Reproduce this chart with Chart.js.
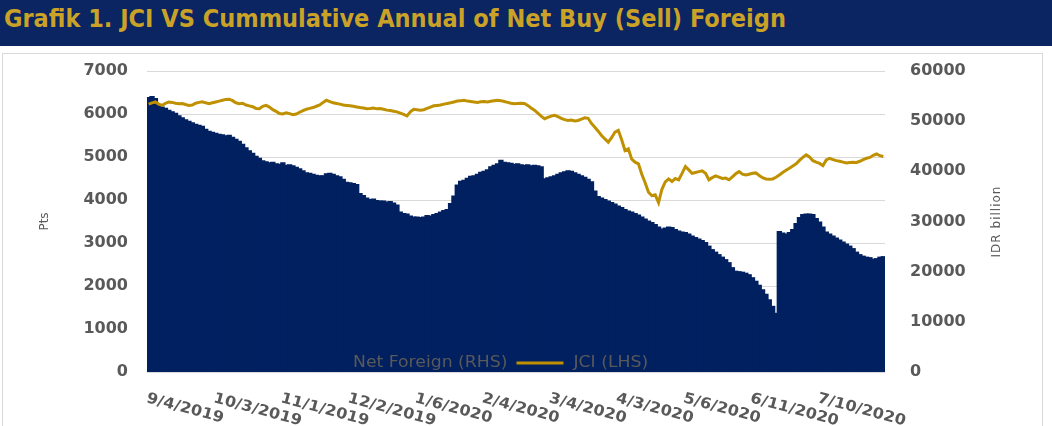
<!DOCTYPE html>
<html>
<head>
<meta charset="utf-8">
<script src="https://cdn.jsdelivr.net/npm/chart.js@4.4.0/dist/chart.umd.min.js"></script>
<style>
  body { margin: 0; width: 1052px; height: 426px; overflow: hidden; background: #fff; }
  .title-bar { position: absolute; left: 0; top: 0; width: 1052px; height: 46px; background: #0b2462; overflow: hidden; }
  .title-bar h1 { position: absolute; left: 4px; top: 4px; margin: 0; line-height: 46px; white-space: nowrap;
    font: bold 25px "DejaVu Sans Condensed", "DejaVu Sans", sans-serif; font-stretch: condensed; color: #c9a227; }
  .frame { position: absolute; left: 2px; top: 53px; width: 1039px; height: 380px; border: 1px solid #d9d9d9; }
  #wrap { position: absolute; left: 0; top: 47px; }
</style>
</head>
<body>
<div class="title-bar"><h1>Grafik 1. JCI VS Cummulative Annual of Net Buy (Sell) Foreign</h1></div>
<div class="frame"></div>
<div id="wrap"><canvas id="chart" width="1052" height="379"></canvas></div>
<script>
// x axis: one category per trading day, a date label every 20th day
const tickLabels = ["9/4/2019", "10/3/2019", "11/1/2019", "12/2/2019", "1/6/2020", "2/4/2020",
  "3/4/2020", "4/3/2020", "5/6/2020", "6/11/2020", "7/10/2020"];
const tickEvery = 20;

// JCI index, pts (left axis)
const jci = [
  6230, 6260, 6280, 6230, 6200, 6250, 6280, 6270, 6250, 6240,
  6245, 6220, 6200, 6210, 6250, 6270, 6285, 6260, 6240, 6260,
  6280, 6300, 6320, 6340, 6345, 6310, 6260, 6240, 6250, 6210,
  6190, 6170, 6130, 6125, 6180, 6200, 6160, 6100, 6060, 6010,
  6000, 6030, 6010, 5985, 6000, 6040, 6080, 6110, 6130, 6150,
  6180, 6210, 6270, 6320, 6290, 6260, 6245, 6230, 6210, 6200,
  6190, 6180, 6165, 6150, 6140, 6125, 6130, 6140, 6120, 6125,
  6110, 6090, 6080, 6065, 6050, 6020, 5990, 5955, 6050, 6110,
  6100, 6090, 6100, 6130, 6160, 6190, 6200, 6210, 6230, 6245,
  6260, 6280, 6300, 6310, 6320, 6300, 6290, 6280, 6270, 6285,
  6290, 6280, 6295, 6310, 6320, 6310, 6290, 6270, 6250, 6240,
  6245, 6250, 6245, 6200, 6140, 6090, 6020, 5950, 5890, 5920,
  5950, 5970, 5940, 5900, 5870, 5850, 5860, 5840, 5850, 5880,
  5910, 5900, 5780, 5690, 5600, 5500, 5420, 5345, 5450, 5580,
  5620, 5400, 5150, 5190, 4950, 4880, 4840, 4600, 4400, 4180,
  4100, 4120, 3940, 4250, 4420, 4490, 4430, 4500, 4470, 4620,
  4780, 4700, 4620, 4640, 4660, 4680, 4620, 4470, 4520, 4560,
  4530, 4500, 4510, 4470, 4540, 4610, 4660, 4600, 4580, 4600,
  4620, 4630, 4570, 4520, 4490, 4480, 4490, 4530, 4580, 4640,
  4690, 4740, 4790, 4840, 4920, 4990, 5050, 5000, 4915, 4880,
  4850, 4800, 4930, 4970, 4940, 4915, 4900, 4880, 4860, 4870,
  4880, 4875, 4900, 4940, 4970, 4990, 5040, 5070, 5030, 5010
];

// cumulative net foreign buy (sell), IDR billion (right axis)
const netForeign = [
  54600, 54800, 54400, 53200, 52700, 52500, 52100, 51800, 51500, 51000,
  50600, 50200, 49900, 49600, 49300, 49100, 48900, 48300, 47900, 47700,
  47500, 47300, 47200, 47000, 47100, 46700, 46300, 45900, 45300, 44600,
  44000, 43500, 42900, 42500, 42000, 41800, 41600, 41700, 41400, 41300,
  41600, 41100, 41200, 41000, 40700, 40400, 40000, 39600, 39500, 39300,
  39100, 39000, 39000, 39400, 39500, 39300, 39000, 38800, 38300, 37700,
  37600, 37500, 37300, 35500, 35100, 34600, 34300, 34400, 34100, 34000,
  34000, 33800, 33900, 33600, 33200, 31800, 31500, 31400, 31000, 30800,
  30800, 30700, 30800, 31100, 31000, 31300, 31500, 31800, 32100, 32300,
  33500, 35000, 37200, 37900, 38100, 38500, 38900, 39000, 39300, 39700,
  39900, 40200, 40800, 41100, 41400, 42100, 41700, 41600, 41500, 41300,
  41400, 41200, 41100, 41200, 41000, 41100, 41000, 40800, 38400, 38600,
  38800, 39000, 39300, 39600, 39800, 40000, 39900, 39600, 39300, 39000,
  38700, 38300, 37800, 36000, 34900, 34600, 34300, 34000, 33700, 33400,
  33000, 32700, 32300, 32000, 31800, 31500, 31200, 30800, 30400, 30000,
  29700, 29300, 28800, 28400, 28600, 28800, 28700, 28300, 28000, 27800,
  27700, 27400, 27000, 26700, 26400, 26100, 25700, 25000, 24300, 23800,
  23300, 22800, 22300, 21700, 20700, 20000, 19900, 19800, 19600, 19300,
  18700, 18000, 17200, 16300, 15400, 14300, 13000, 11600, 27900, 27600,
  27400, 27700, 28300, 29500, 30700, 31300, 31400, 31400, 31300, 30500,
  29800, 28800, 27800, 27400, 27000, 26600, 26200, 25800, 25400, 25000,
  24500, 23800, 23300, 23000, 22800, 22700, 22400, 22500, 22800, 22900
];

const days = netForeign.map((_, i) => i);

const NAVY = "#002060";
const GOLD = "#bf9000";
const GREY = "#595959";

Chart.defaults.font.family = "'DejaVu Sans', sans-serif";

// draws the date labels slanted downwards, the legend inside the plot and the right axis title
const overlay = {
  id: "overlay",
  afterDatasetsDraw(chart) {
    const { ctx, chartArea } = chart;
    const y = chartArea.bottom - 9;
    const net = chart.data.datasets[1];
    const line = chart.data.datasets[0];
    ctx.save();
    ctx.font = "15px 'DejaVu Sans'";
    ctx.textBaseline = "middle";
    ctx.fillStyle = net.backgroundColor;
    ctx.fillRect(340, y - 5, 10, 10);
    let x = 353;
    ctx.fillStyle = GREY;
    ctx.save(); ctx.translate(x, y); ctx.scale(1.15, 1); ctx.fillText(net.label, 0, 0); ctx.restore();
    x += ctx.measureText(net.label).width * 1.15 + 9;
    ctx.strokeStyle = line.borderColor;
    ctx.lineWidth = 3;
    ctx.beginPath(); ctx.moveTo(x, y); ctx.lineTo(x + 47, y); ctx.stroke();
    x += 57;
    ctx.save(); ctx.translate(x, y); ctx.scale(1.15, 1); ctx.fillText(line.label, 0, 0); ctx.restore();
    ctx.restore();
  },
  afterDraw(chart) {
    const { ctx, chartArea, scales } = chart;
    ctx.save();
    ctx.fillStyle = GREY;
    ctx.font = "bold 15px 'DejaVu Sans'";
    ctx.textAlign = "left";
    ctx.textBaseline = "top";
    tickLabels.forEach((lab, k) => {
      const x = scales.x.getPixelForValue(k * tickEvery);
      ctx.save();
      ctx.translate(x, chartArea.bottom + 19);
      ctx.rotate(15 * Math.PI / 180);
      ctx.scale(1.08, 1);
      ctx.fillText(lab, 0, 0);
      ctx.restore();
    });
    ctx.font = "12px 'DejaVu Sans'";
    ctx.textAlign = "center";
    ctx.textBaseline = "middle";
    if ("letterSpacing" in ctx) ctx.letterSpacing = "1px";
    ctx.translate(chartArea.right + 112, (chartArea.top + chartArea.bottom) / 2);
    ctx.rotate(-Math.PI / 2);
    ctx.fillText("IDR billion", 0, 0);
    ctx.restore();
  }
};

const plain = v => String(v);

new Chart(document.getElementById("chart"), {
  type: "bar",
  data: {
    labels: days,
    datasets: [
      {
        type: "line",
        label: "JCI (LHS)",
        data: jci,
        yAxisID: "y",
        borderColor: GOLD,
        borderWidth: 3,
        pointRadius: 0,
        tension: 0,
        order: 0
      },
      {
        type: "bar",
        label: "Net Foreign (RHS)",
        data: netForeign,
        yAxisID: "y1",
        backgroundColor: NAVY,
        borderWidth: 0,
        barPercentage: 1,
        categoryPercentage: 1,
        inflateAmount: 1,
        order: 1
      }
    ]
  },
  options: {
    responsive: false,
    animation: false,
    devicePixelRatio: 1,
    layout: { padding: { left: 0, right: 47, top: 24, bottom: 54 } },
    plugins: { legend: { display: false }, tooltip: { enabled: false } },
    scales: {
      x: {
        offset: true,
        grid: { display: false, drawTicks: false },
        border: { display: false },
        ticks: { display: false },
        afterFit: s => { s.height = 0; }
      },
      y: {
        position: "left",
        min: 0,
        max: 7000,
        ticks: { stepSize: 1000, padding: 0, color: GREY, font: { size: 16, weight: "bold" }, callback: plain },
        grid: { color: "#d9d9d9", drawTicks: true, tickLength: 19, tickColor: "rgba(0,0,0,0)" },
        border: { display: false },
        title: { display: true, text: "Pts", color: GREY, font: { size: 12 }, padding: { top: 38, bottom: 0 } },
        afterFit: s => { s.width = 147; }
      },
      y1: {
        position: "right",
        min: 0,
        max: 60000,
        ticks: { stepSize: 10000, padding: 0, color: GREY, font: { size: 16, weight: "bold" }, callback: plain },
        grid: { display: false, drawTicks: true, tickLength: 25 },
        border: { display: false },
        afterFit: s => { s.width = 120; }
      }
    }
  },
  plugins: [overlay]
});
</script>
</body>
</html>
